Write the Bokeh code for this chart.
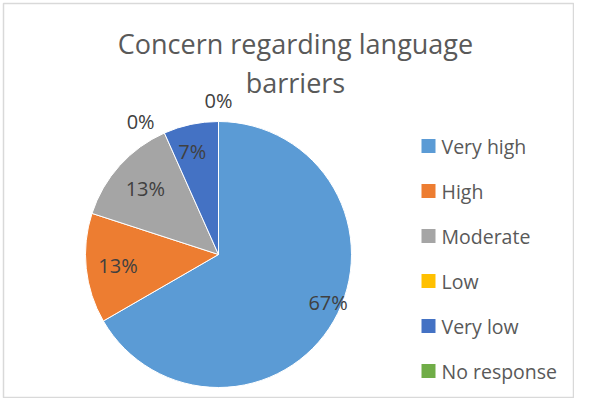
import math
from bokeh.plotting import figure
from bokeh.models import Range1d, ColumnDataSource
from bokeh.core.properties import value
from bokeh.embed import file_html
from bokeh.resources import INLINE

# ---- data ----
categories = ["Very high", "High", "Moderate", "Low", "Very low", "No response"]
counts = [10, 2, 2, 0, 1, 0]
percent_labels = ["67%", "13%", "13%", "0%", "7%", "0%"]
colors = ["#5B9BD5", "#ED7D31", "#A5A5A5", "#FFC000", "#4472C4", "#70AD47"]
title_lines = ["Concern regarding language", "barriers"]

# ---- layout (pixels) ----
W, H = 574, 398
cx, cy, R = 218, 144, 133
FONT = "Open Sans"

p = figure(width=W, height=H, x_range=Range1d(0, W), y_range=Range1d(0, H),
           x_axis_type=None, y_axis_type=None, output_backend="svg",
           toolbar_location=None, min_border=0)
p.grid.visible = False
p.outline_line_color = None
p.background_fill_color = "white"
p.border_fill_color = "white"

# light frame like the Excel chart area
p.quad(left=[3], right=[W - 1], bottom=[1], top=[H - 3], fill_color=None,
       line_color="#D9D9D9", line_width=1.5)

total = float(sum(counts))
fr0, fr1 = [], []
c = 0.0
for v in counts:
    fr0.append(c)
    c += v / total
    fr1.append(c)

# wedges (clockwise from 12 o'clock), only non-zero slices are drawn
ws = dict(x=[], y=[], start=[], end=[], color=[], cat=[])
for i, v in enumerate(counts):
    if v <= 0:
        continue
    ws["x"].append(cx)
    ws["y"].append(cy)
    ws["start"].append(math.pi / 2 - 2 * math.pi * fr1[i])
    ws["end"].append(math.pi / 2 - 2 * math.pi * fr0[i])
    ws["color"].append(colors[i])
    ws["cat"].append(categories[i])
p.wedge(x="x", y="y", radius=R, start_angle="start", end_angle="end",
        direction="anticlock", fill_color="color", line_color="white",
        line_width=1, source=ColumnDataSource(ws))

# data labels
label_rf = [0.9, 0.76, 0.74, 1.16, 0.8, 1.16]
label_dth = [0.11, 0.0, 0.0, 0.11, 0.04, 0.0]
lx, ly = [], []
for i, v in enumerate(counts):
    th = math.pi / 2 - 2 * math.pi * (fr0[i] + fr1[i]) / 2 + label_dth[i]
    lx.append(cx + label_rf[i] * R * math.cos(th))
    ly.append(cy + label_rf[i] * R * math.sin(th))
p.text(x=lx, y=ly, text=percent_labels, text_align="center",
       text_baseline="middle", text_font=value(FONT),
       text_font_size="20px", text_color="#404040")

# title
p.text(x=[295, 295], y=[355, 316], text=title_lines, text_align="center",
       text_baseline="middle", text_font=value(FONT),
       text_font_size="27px", text_color="#595959")

# legend
leg_y = [252.5 - 45 * i for i in range(len(categories))]
p.scatter(x=[428] * len(categories), y=leg_y, marker="square", size=14,
          fill_color=colors, line_color=None)
p.text(x=[441] * len(categories), y=leg_y, text=categories, text_align="left",
       text_baseline="middle", text_font=value(FONT),
       text_font_size="19.5px", text_color="#595959")

open("out.html", "w").write(file_html(p, INLINE))
